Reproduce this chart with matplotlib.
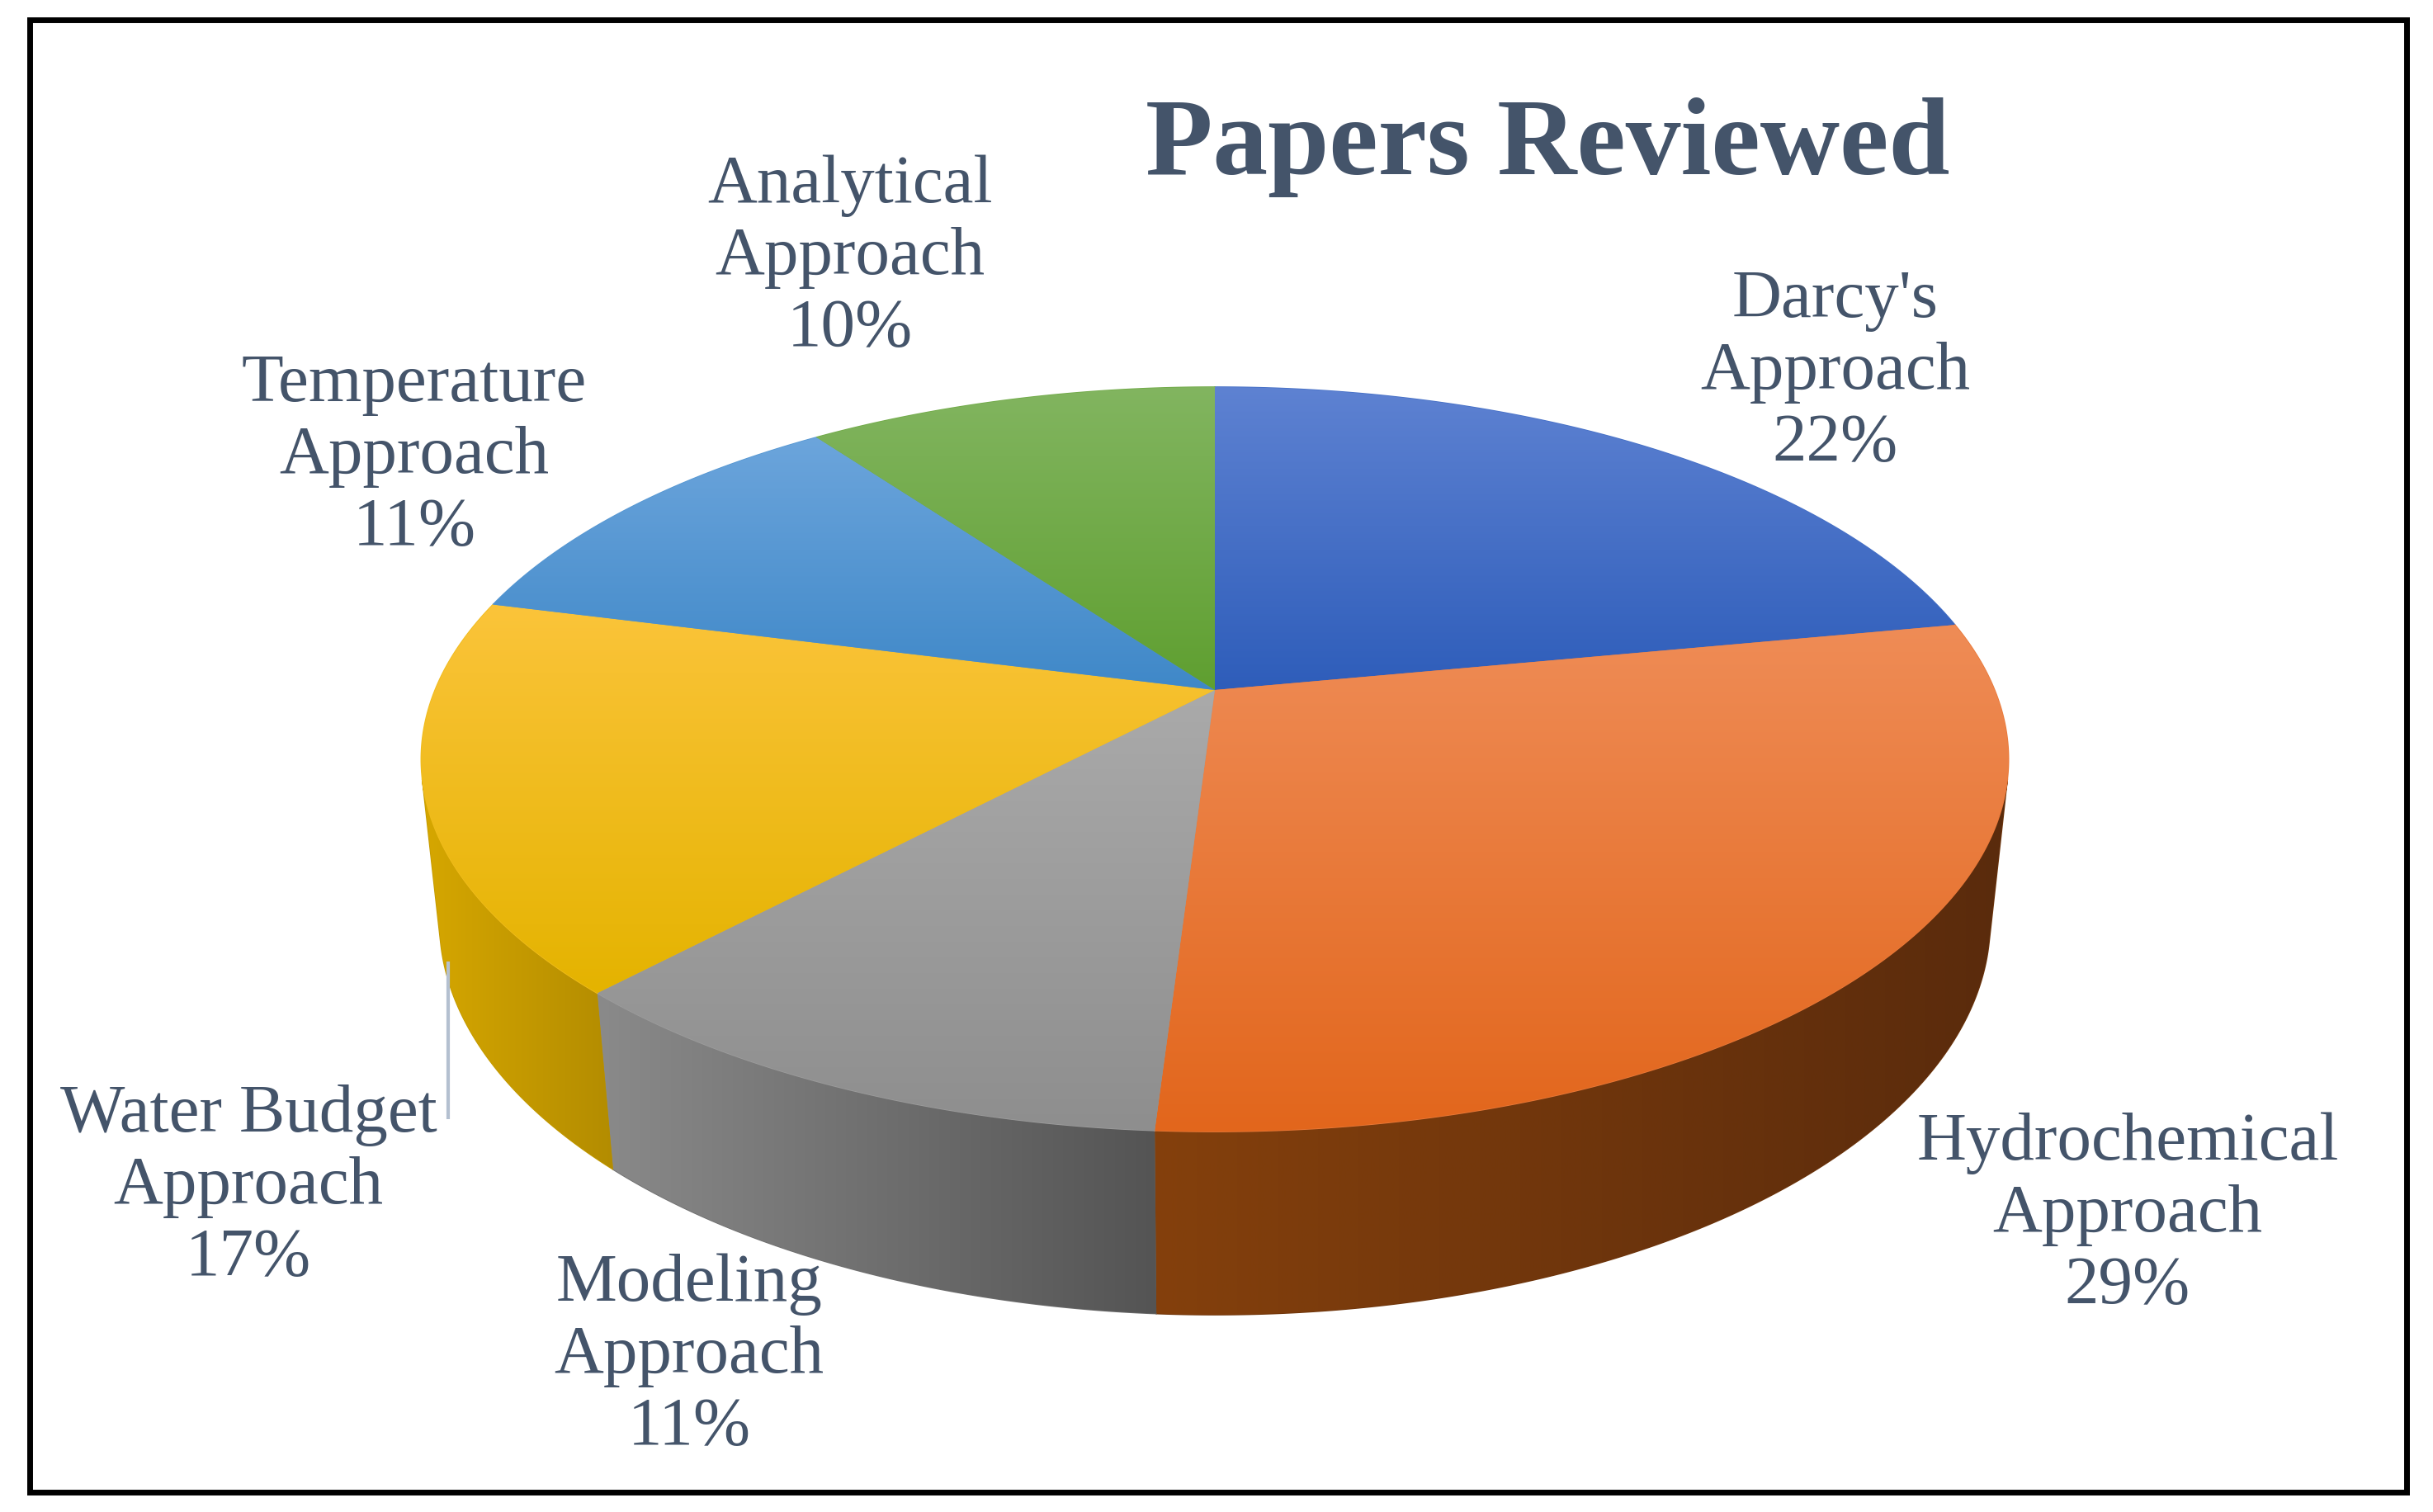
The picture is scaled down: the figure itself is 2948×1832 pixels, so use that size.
import matplotlib.pyplot as plt
import numpy as np
from matplotlib.patches import Polygon, Rectangle
from matplotlib.colors import to_rgb

# Data (clockwise from 12 o'clock)
labels = ["Darcy's\nApproach", "Hydrochemical\nApproach", "Modeling\nApproach",
          "Water Budget\nApproach", "Temperature\nApproach", "Analytical\nApproach"]
shares = [22, 29, 11, 17, 11, 10]

# top face gradient (top -> bottom) and side wall gradient (left -> right)
top_light = ['#5e82d2', '#ef8c56', '#aaaaaa', '#fbc43a', '#6ca5dc', '#82b560']
top_dark = ['#2e5dba', '#e2661c', '#8e8e8e', '#e4b300', '#3f88c8', '#5f9f30']
wall_light = ['#2c4f96', '#84400c', '#8a8a8a', '#d6a700', '#3a77ad', '#4f8a2a']
wall_dark = ['#1f3a70', '#5a2b0c', '#545454', '#b38c00', '#2a5a84', '#3a6a1e']

# label anchor points (pixels) for each slice
label_xy = [(2224, 451), (2578, 1472), (835, 1643), (301, 1438), (502, 553), (1030, 312)]

text_color = '#44546A'
W, H = 2948, 1833
DPI = 200

# perspective set-up of the 3D pie (pixel units)
cx, cy = 1472, 837
cos_a, sin_a = np.cos(np.radians(27.44)), np.sin(np.radians(27.44))
D = 4.764
f = 4501
depth_h = 0.236


def project(phi, z):
    u, v = np.cos(phi), np.sin(phi)
    w = D + v * cos_a - z * sin_a
    X = cx + f * u / w
    Y = cy - f * (v * sin_a + z * cos_a) / w
    return np.column_stack([X, Y])


def mix(c0, c1):
    return tuple((np.array(to_rgb(c0)) + np.array(to_rgb(c1))) / 2)


def gradient_fill(ax, verts, c0, c1, horizontal, z):
    base = mix(c0, c1)
    poly = Polygon(verts, closed=True, facecolor=base, edgecolor=base, lw=0.6, zorder=z)
    ax.add_patch(poly)
    x0, y0 = verts.min(axis=0)
    x1, y1 = verts.max(axis=0)
    t = np.linspace(0, 1, 256)[:, None]
    cols = (1 - t) * np.array(to_rgb(c0)) + t * np.array(to_rgb(c1))
    img = cols[None, :, :] if horizontal else cols[:, None, :]
    im = ax.imshow(img, extent=(x0, x1, y1, y0), origin='upper', aspect='auto',
                   interpolation='bilinear', zorder=z + 0.1)
    im.set_clip_path(poly)


fig = plt.figure(figsize=(W / DPI, H / DPI), dpi=DPI)
ax = fig.add_axes([0, 0, 1, 1])
ax.set_axis_off()

fracs = np.array(shares) / np.sum(shares)
edges = np.radians(90 - 360 * np.concatenate([[0], np.cumsum(fracs)]))

# visible part of the side wall: sin(phi) < -1/(D cos a)
vis_lo = -np.pi - np.arcsin(-1 / (D * cos_a))
vis_hi = np.arcsin(-1 / (D * cos_a))

# side walls
for i in range(len(shares)):
    a1, a2 = edges[i], edges[i + 1]
    lo, hi = max(a2, vis_lo), min(a1, vis_hi)
    if hi <= lo:
        continue
    ph = np.linspace(hi, lo, 200)
    top = project(ph, 0)
    bot = project(ph[::-1], -depth_h)
    gradient_fill(ax, np.vstack([top, bot]), wall_light[i], wall_dark[i], True, 1)

# top faces
for i in range(len(shares)):
    ph = np.linspace(edges[i], edges[i + 1], 300)
    verts = np.vstack([[cx, cy], project(ph, 0)])
    gradient_fill(ax, verts, top_light[i], top_dark[i], False, 3)

# data labels
for i, (lab, s) in enumerate(zip(labels, shares)):
    x, y = label_xy[i]
    ax.text(x, y, f"{lab}\n{s}%", ha='center', va='center', multialignment='center',
            fontsize=29.9, family='Liberation Serif', color=text_color, linespacing=1.2,
            zorder=5)

# thin leftover leader line next to the Water Budget label
ax.plot([543, 543], [1166, 1357], color='#b4c0d0', lw=1.5, solid_capstyle='butt', zorder=4)

# title
ax.text(1875, 211, 'Papers Reviewed', ha='center', va='baseline', fontsize=48,
        fontweight='bold', family='Liberation Serif', color=text_color)

# frame
ax.add_patch(Rectangle((36.5, 24.5), 2916 - 36.5, 1809 - 24.5, fill=False,
                       edgecolor='black', lw=2.5, zorder=6))

ax.set_xlim(0, W)
ax.set_ylim(H, 0)

plt.savefig('out.png', dpi=DPI, facecolor='white')
